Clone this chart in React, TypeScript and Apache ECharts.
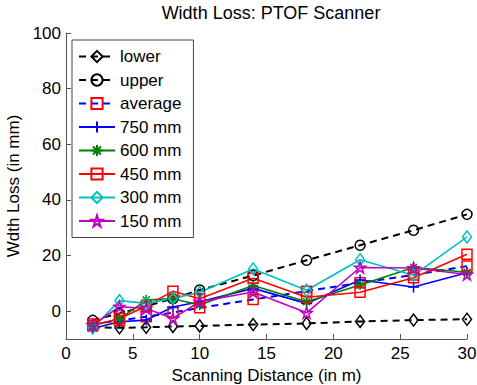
import React, { useEffect, useRef } from "react";
import * as echarts from "echarts";

const distances = [2, 4, 6, 8, 10, 14, 18, 22, 26, 30];
const lower = [-5.8, -6, -5.8, -5.5, -5.3, -4.8, -4.4, -3.7, -3.2, -2.9];
const upper = [-3.3, -0.8, 1.8, 4.5, 7.6, 12.8, 18.3, 23.7, 29.1, 34.8];
const average = [-4.6, -3.4, -2, -0.5, 1.2, 4.2, 7.2, 10.2, 13, 16.2];
const mm750 = [-6.2, -3.8, -3.2, 1.5, 3.4, 8.2, 2.8, 11.2, 8.7, 13.8];
const mm600 = [-5, -2.8, 4, 4.5, 2.2, 9.2, 3.4, 9.4, 15.7, 14];
const mm450 = [-5.2, -2.6, 1.8, 7.2, 4.5, 11.8, 5, 6.8, 12, 20.5];
const mm300 = [-6, 3.8, 2.8, 4.6, 6.8, 15.2, 7.5, 18.5, 12.9, 26.7];
const mm150 = [-5, 1.6, 1, -2.6, 3.4, 6.9, -0.6, 15.7, 15.5, 13.2];
const yTicks = [0, 20, 40, 60, 80, 100];

const PLUS = "path://M5,0L5,10M0,5L10,5";
const ASTER = "path://M5,0L5,10M0,5L10,5M1.5,1.5L8.5,8.5M8.5,1.5L1.5,8.5";
const STAR =
  "path://M5,0L6.123,3.455L9.755,3.455L6.816,5.59L7.939,9.045L5,6.91L2.061,9.045L3.184,5.59L0.245,3.455L3.877,3.455Z";

const FONT = "Liberation Sans, Arial, Helvetica, sans-serif";

function mk(
  name: string,
  vals: number[],
  lineColor: string,
  markColor: string,
  symbol: string,
  size: number | number[],
  dashed: boolean
) {
  return {
    name,
    type: "line",
    data: distances.map((d, i) => [d, vals[i]]),
    symbol,
    symbolSize: size,
    showSymbol: true,
    color: lineColor,
    lineStyle: {
      color: lineColor,
      width: dashed ? 2 : 1.6,
      type: dashed ? [7, 5] : "solid",
    },
    itemStyle: { color: "none", borderColor: markColor, borderWidth: 1.5 },
  };
}

export default function App() {
  const ref = useRef<HTMLDivElement>(null);
  useEffect(() => {
    document.body.style.margin = "0";
    if (!ref.current) return;
    const chart = echarts.init(ref.current, null, { renderer: "svg" });
    const axisColor = "#555";
    chart.setOption({
      animation: false,
      backgroundColor: "#fff",
      title: {
        text: "Width Loss: PTOF Scanner",
        left: 266,
        top: -1,
        textAlign: "center",
        textStyle: { fontFamily: FONT, fontSize: 18, fontWeight: "normal", color: "#000" },
      },
      grid: {
        left: 66,
        right: 10,
        top: 33,
        bottom: 46,
        containLabel: false,
        outerBoundsMode: "none",
      },
      legend: {
        orient: "vertical",
        left: 72,
        top: 40,
        padding: [8, 12, 8, 6],
        itemGap: 6.5,
        itemWidth: 36,
        itemHeight: 14,
        borderColor: "#444",
        borderWidth: 1,
        backgroundColor: "#fff",
        textStyle: { fontFamily: FONT, fontSize: 17, color: "#000" },
        data: ["lower", "upper", "average", "750 mm", "600 mm", "450 mm", "300 mm", "150 mm"],
      },
      xAxis: {
        type: "value",
        min: 0,
        max: 30,
        interval: 5,
        name: "Scanning Distance (in m)",
        nameLocation: "middle",
        nameGap: 22,
        nameTextStyle: { fontFamily: FONT, fontSize: 17, color: "#000" },
        axisLine: { onZero: false, lineStyle: { color: axisColor, width: 1 } },
        axisTick: { inside: true, length: 5, lineStyle: { color: axisColor } },
        axisLabel: { fontFamily: FONT, fontSize: 17, color: "#000", margin: 6 },
        splitLine: { show: false },
      },
      yAxis: {
        type: "value",
        min: -10,
        max: 100,
        name: "Wdth Loss (in mm)",
        nameLocation: "middle",
        nameGap: 44,
        nameTextStyle: { fontFamily: FONT, fontSize: 17, color: "#000" },
        axisLine: { show: true, lineStyle: { color: axisColor, width: 1 } },
        axisTick: { show: true, inside: true, length: 5, customValues: yTicks, lineStyle: { color: axisColor } },
        axisLabel: { fontFamily: FONT, fontSize: 17, color: "#000", margin: 5, customValues: yTicks },
        splitLine: { show: false },
      },
      series: [
        mk("lower", lower, "#000", "#000", "diamond", [9, 12], true),
        mk("upper", upper, "#000", "#000", "circle", 10, true),
        mk("average", average, "#0000ff", "#ff0000", "rect", 10, true),
        mk("750 mm", mm750, "#0000ff", "#0000ff", PLUS, 11, false),
        mk("600 mm", mm600, "#008000", "#008000", ASTER, 10, false),
        mk("450 mm", mm450, "#ff0000", "#ff0000", "rect", 10, false),
        mk("300 mm", mm300, "#00bfbf", "#00bfbf", "diamond", [9, 12], false),
        mk("150 mm", mm150, "#bf00bf", "#bf00bf", STAR, 11, false),
      ],
    });
    return () => chart.dispose();
  }, []);
  return <div ref={ref} style={{ width: 477, height: 385 }} />;
}
